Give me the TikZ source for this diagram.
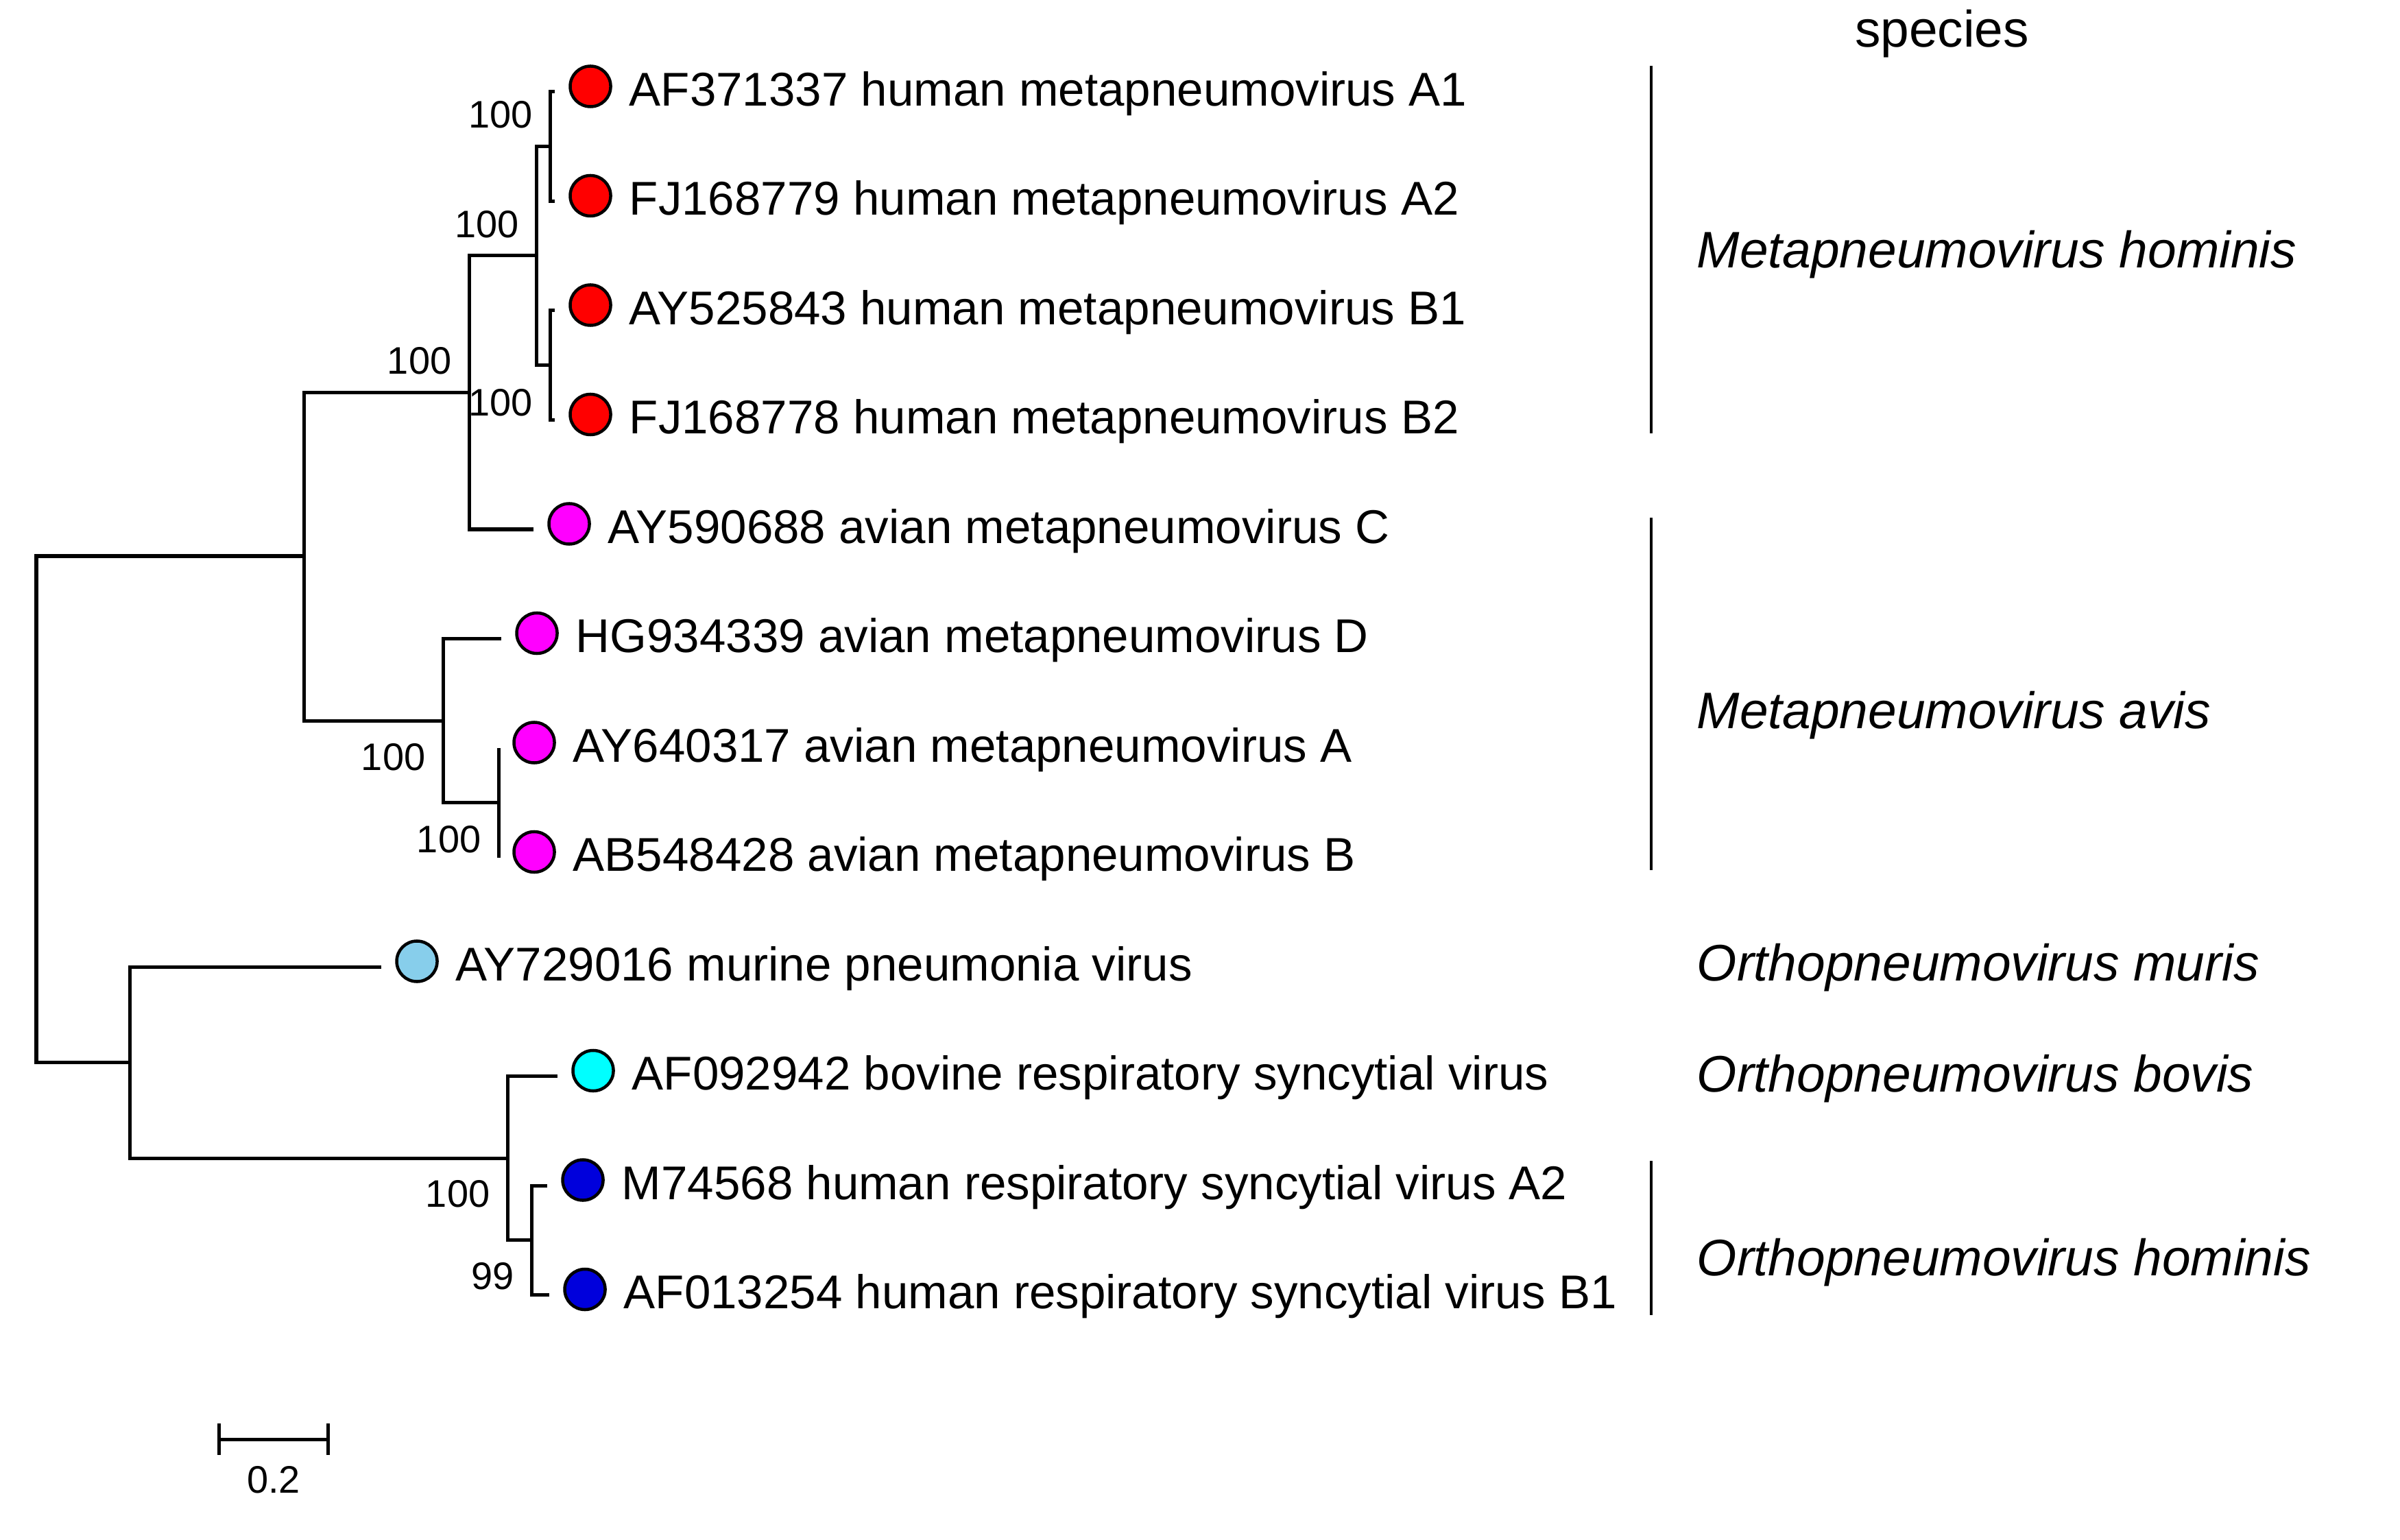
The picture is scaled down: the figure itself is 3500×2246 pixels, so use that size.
\documentclass[tikz,border=0pt]{standalone}
\usepackage{fontspec}
\setmainfont{Liberation Sans}
\definecolor{hmpvred}{RGB}{255,0,0}
\definecolor{avismag}{RGB}{255,0,255}
\definecolor{murisblue}{RGB}{135,206,235}
\definecolor{bovcyan}{RGB}{0,255,255}
\definecolor{hrsvblue}{RGB}{0,0,220}
\begin{document}
\begin{tikzpicture}[x=0.01cm,y=-0.01cm,
  branch/.style={line width=0.05cm},
  cladebar/.style={line width=0.038cm},
  leafdot/.style={circle, draw=black, line width=0.045cm, minimum size=0.59cm, inner sep=0pt},
  leaflbl/.style={font=\fontsize{19.65}{23}\selectfont, inner sep=0pt, anchor=base west},
  specieslbl/.style={font=\fontsize{21.3}{25}\selectfont\itshape, inner sep=0pt, anchor=base west},
  bootlbl/.style={font=\fontsize{15.9}{18}\selectfont, inner sep=0pt, anchor=east},
  headlbl/.style={font=\fontsize{21.3}{25}\selectfont, inner sep=0pt, anchor=base}
]
\useasboundingbox (0,0) rectangle (3500,2246);

% internal nodes
\coordinate (root) at (53,1180.75);
\coordinate (meta) at (443,811);
\coordinate (hc) at (684,573);
\coordinate (hmpv) at (782,373);
\coordinate (nA) at (802,213.75);
\coordinate (nB) at (802,532.75);
\coordinate (avis) at (646,1051);
\coordinate (nAB) at (727,1170.75);
\coordinate (ortho) at (189,1549.5);
\coordinate (rsv) at (740,1689);
\coordinate (hrsv) at (775,1808.75);

% tips
\coordinate (tA1) at (809,134);
\coordinate (tA2) at (809,293.5);
\coordinate (tB1) at (809,453);
\coordinate (tB2) at (809,612.5);
\coordinate (tC) at (778,772);
\coordinate (tHG) at (731,931.5);
\coordinate (tAY) at (727,1091);
\coordinate (tAB) at (727,1250.5);
\coordinate (tMPV) at (556,1410);
\coordinate (tBRSV) at (813,1569.5);
\coordinate (tM) at (798,1729);
\coordinate (tAF) at (801,1888.5);

% branches
\draw[branch] (root) |- (meta);
\draw[branch] (root) |- (ortho);
\draw[branch] (meta) |- (hc);
\draw[branch] (meta) |- (avis);
\draw[branch] (hc) |- (hmpv);
\draw[branch] (hc) |- (tC);
\draw[branch] (hmpv) |- (nA);
\draw[branch] (hmpv) |- (nB);
\draw[branch] (nA) |- (tA1);
\draw[branch] (nA) |- (tA2);
\draw[branch] (nB) |- (tB1);
\draw[branch] (nB) |- (tB2);
\draw[branch] (avis) |- (tHG);
\draw[branch] (avis) |- (nAB);
\draw[branch] (nAB) |- (tAY);
\draw[branch] (nAB) |- (tAB);
\draw[branch] (ortho) |- (tMPV);
\draw[branch] (ortho) |- (rsv);
\draw[branch] (rsv) |- (tBRSV);
\draw[branch] (rsv) |- (hrsv);
\draw[branch] (hrsv) |- (tM);
\draw[branch] (hrsv) |- (tAF);

% bootstrap values
\node[bootlbl] (bA) at ([xshift=-0.25cm,yshift=0.46cm]nA) {100};
\node[bootlbl] (bH) at ([xshift=-0.25cm,yshift=0.46cm]hmpv) {100};
\node[bootlbl] (bHC) at ([xshift=-0.25cm,yshift=0.47cm]hc) {100};
\node[bootlbl] (bB) at ([xshift=-0.25cm,yshift=-0.54cm]nB) {100};
\node[bootlbl] (bAV) at ([xshift=-0.25cm,yshift=-0.53cm]avis) {100};
\node[bootlbl] (bAB) at ([xshift=-0.25cm,yshift=-0.53cm]nAB) {100};
\node[bootlbl] (bR) at ([xshift=-0.25cm,yshift=-0.52cm]rsv) {100};
\node[bootlbl] (bHR) at ([xshift=-0.25cm,yshift=-0.52cm]hrsv) {99};

% leaf dots and labels
\foreach \t/\c/\txt in {
  tA1/hmpvred/AF371337 human metapneumovirus A1,
  tA2/hmpvred/FJ168779 human metapneumovirus A2,
  tB1/hmpvred/AY525843 human metapneumovirus B1,
  tB2/hmpvred/FJ168778 human metapneumovirus B2,
  tC/avismag/AY590688 avian metapneumovirus C,
  tHG/avismag/HG934339 avian metapneumovirus D,
  tAY/avismag/AY640317 avian metapneumovirus A,
  tAB/avismag/AB548428 avian metapneumovirus B,
  tMPV/murisblue/AY729016 murine pneumonia virus,
  tBRSV/bovcyan/AF092942 bovine respiratory syncytial virus,
  tM/hrsvblue/M74568 human respiratory syncytial virus A2,
  tAF/hrsvblue/AF013254 human respiratory syncytial virus B1}{
  \node[leafdot, fill=\c] (d\t) at ([xshift=0.52cm,yshift=0.08cm]\t) {};
  \node[leaflbl] (l\t) at ([xshift=0.56cm,yshift=-0.28cm]d\t.center) {\txt};
}

% species column
\node[headlbl] (head) at (2832,69) {species};
\coordinate (s1a) at (2408,96);   \coordinate (s1b) at (2408,632);
\coordinate (s2a) at (2408,755);  \coordinate (s2b) at (2408,1269);
\coordinate (s3a) at (2408,1693); \coordinate (s3b) at (2408,1918);
\draw[cladebar] (s1a) -- (s1b);
\draw[cladebar] (s2a) -- (s2b);
\draw[cladebar] (s3a) -- (s3b);
\node[specieslbl] (sp1) at (2474,391) {Metapneumovirus hominis};
\node[specieslbl] (sp2) at (2474,1062) {Metapneumovirus avis};
\node[specieslbl] (sp3) at (2474,1430) {Orthopneumovirus muris};
\node[specieslbl] (sp4) at (2474,1592) {Orthopneumovirus bovis};
\node[specieslbl] (sp5) at (2474,1860) {Orthopneumovirus hominis};

% scale bar
\coordinate (sbL) at (319,2099);
\coordinate (sbR) at (478,2099);
\draw[branch] (sbL) -- (sbR);
\draw[branch] ([yshift=0.23cm]sbL) -- ([yshift=-0.23cm]sbL);
\draw[branch] ([yshift=0.23cm]sbR) -- ([yshift=-0.23cm]sbR);
\node[font=\fontsize{15.9}{18}\selectfont, inner sep=0pt] (sblbl) at (399,2158) {0.2};
\end{tikzpicture}
\end{document}
